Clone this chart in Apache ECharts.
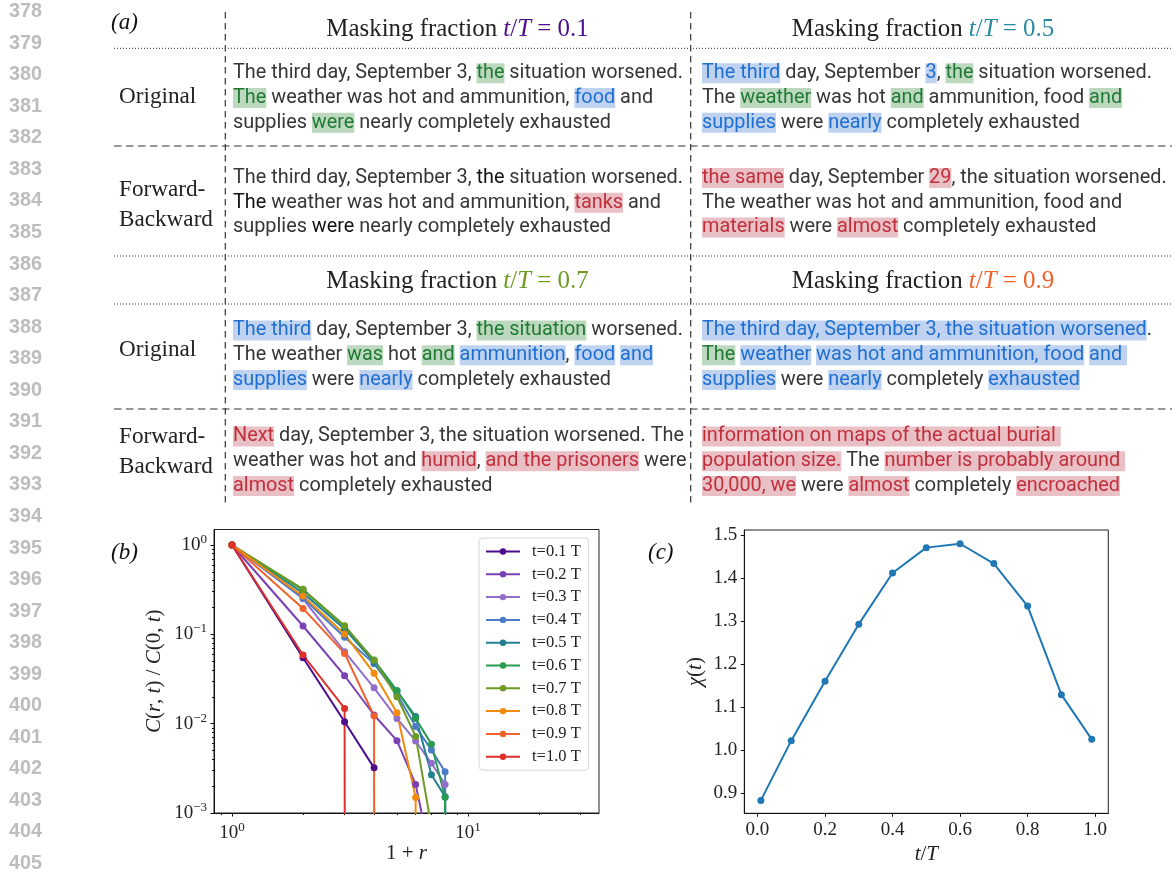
<!DOCTYPE html>
<html><head><meta charset="utf-8">
<script src="https://cdn.jsdelivr.net/npm/echarts@6/dist/echarts.min.js"></script>
<style>html,body{margin:0;padding:0;background:#fff}#c{width:1172px;height:869px}</style>
</head><body><div id="c"></div>
<script>
// ================= DATA =================
const lineNumbers = [378,379,380,381,382,383,384,385,386,387,388,389,390,391,392,393,394,395,396,397,398,399,400,401,402,403,404,405];
const maskFractions = ['0.1', '0.5', '0.7', '0.9'];
const rowLabelOriginal = ['Original'];
const rowLabelFB = ['Forward-', 'Backward'];
// [g:..] kept/masked-green, [b:..] masked-blue, [r:..] regenerated-red, [k:..] dark
const cellOrig01 = ['The third day, September 3, [g:the] situation worsened.', '[g:The] weather was hot and ammunition, [b:food] and', 'supplies [g:were] nearly completely exhausted'];
const cellFB01 = ['The third day, September 3, [k:the] situation worsened.', '[k:The] weather was hot and ammunition, [r:tanks] and', 'supplies [k:were] nearly completely exhausted'];
const cellOrig05 = ['[b:The third] day, September [b:3], [g:the] situation worsened.', 'The [g:weather] was hot [g:and] ammunition, food [g:and]', '[b:supplies] were [b:nearly] completely exhausted'];
const cellFB05 = ['[r:the same] day, September [r:29], the situation worsened.', 'The weather was hot and ammunition, food and', '[r:materials] were [r:almost] completely exhausted'];
const cellOrig07 = ['[b:The third] day, September 3, [g:the situation] worsened.', 'The weather [g:was] hot [g:and] [b:ammunition], [b:food] [b:and]', '[b:supplies] were [b:nearly] completely exhausted'];
const cellFB07 = ['[r:Next] day, September 3, the situation worsened. The', 'weather was hot and [r:humid], [r:and the prisoners] were', '[r:almost] completely exhausted'];
const cellOrig09 = ['[b:The third day, September 3, the situation worsened].', '[g:The] [b:weather] [b:was hot and ammunition, food] [b:and ]', '[b:supplies] were [b:nearly] completely [b:exhausted]'];
const cellFB09 = ['[r:information on maps of the actual burial ]', '[r:population size.] The [r:number is probably around ]', '[r:30,000, we] were [r:almost] completely [r:encroached]'];

// panel (b): 1+r and C(r,t)/C(0,t)   (0 = vanished correlation)
const distance = [1, 2, 3, 4, 5, 6, 7, 8, 9];
const seriesNames = ['t=0.1 T','t=0.2 T','t=0.3 T','t=0.4 T','t=0.5 T','t=0.6 T','t=0.7 T','t=0.8 T','t=0.9 T','t=1.0 T'];
const corr01 = [1, 0.0547, 0.0105, 0.0032];
const corr02 = [1, 0.124, 0.0344, 0.0125, 0.00645, 0.00209, 0.0003];
const corr03 = [1, 0.25, 0.064, 0.0252, 0.01146, 0.0064, 0.0036, 0.00209, 0];
const corr04 = [1, 0.255, 0.093, 0.047, 0.0214, 0.0093, 0.00506, 0.0029, 0];
const corr05 = [1, 0.29, 0.115, 0.049, 0.0232, 0.0120, 0.00268, 0.00152, 0];
const corr06 = [1, 0.313, 0.122, 0.0515, 0.0235, 0.0114, 0.0059, 0.0015, 0];
const corr07 = [1, 0.32, 0.125, 0.0512, 0.0200, 0.0072, 0.0007];
const corr08 = [1, 0.268, 0.1007, 0.0366, 0.01325, 0.00149, 0];
const corr09 = [1, 0.195, 0.0612, 0.0122, 0];
const corr10 = [1, 0.0587, 0.0148, 0];
const corrAll = [corr01, corr02, corr03, corr04, corr05, corr06, corr07, corr08, corr09, corr10];
const bMajorX = [1, 10];
const bMinorX = [0.9, 2, 3, 4, 5, 6, 7, 8, 9, 20, 30];
const bMajorY = [0.001, 0.01, 0.1, 1];
const bMinorY = [0.002,0.003,0.004,0.005,0.006,0.007,0.008,0.009,0.02,0.03,0.04,0.05,0.06,0.07,0.08,0.09,0.2,0.3,0.4,0.5,0.6,0.7,0.8,0.9];

// panel (c)
const chiT = [0.01, 0.1, 0.2, 0.3, 0.4, 0.5, 0.6, 0.7, 0.8, 0.9, 0.99];
const chiValues = [0.883, 1.022, 1.160, 1.293, 1.412, 1.471, 1.480, 1.434, 1.335, 1.129, 1.025];
const cTicksX = [0, 0.2, 0.4, 0.6, 0.8, 1.0];
const cTicksY = [0.9, 1.0, 1.1, 1.2, 1.3, 1.4, 1.5];

// ================= STYLE =================
const seriesColors = ['#4b0d8c','#7a40b5','#9170cc','#4b7cc8','#20808f','#279c4f','#6e9b23','#f28a0b','#f0622a','#df2f2a'];
const headerColors = ['#4b0d8c','#2a8aa0','#6e9b23','#f0622a'];
const SERIF = 'Liberation Serif';
const SANS = 'Roboto';
const ctx = document.createElement('canvas').getContext('2d');
function fit(text, family, target, weight, style) {
  ctx.font = (style||'normal') + ' ' + (weight||'normal') + ' 100px "' + family + '"';
  return 100 * target / ctx.measureText(text).width;
}
const bodySize = fit('The third day, September 3, the situation worsened.', SANS, 450);
const headSize = fit('Masking fraction t/T = 0.1', SERIF, 264);
const labSize = fit('Backward', SERIF, 94);
const numSize = fit('378', 'Liberation Sans', 33, 'bold');

const bodyRich = {};
const tokStyles = {
  n: {fill: '#363636'}, k: {fill: '#111111'},
  g: {fill: '#1f7a33', backgroundColor: '#bcd8be'},
  b: {fill: '#1f6fd2', backgroundColor: '#bfd3f1'},
  r: {fill: '#c0303c', backgroundColor: '#e9c0c5'}
};
for (const k in tokStyles) bodyRich[k] = Object.assign({fontFamily: SANS, fontSize: bodySize, lineHeight: 24}, tokStyles[k]);

function toRich(s) {
  let out = '', re = /\[([a-z]):([^\]]*)\]/g, last = 0, m;
  while ((m = re.exec(s))) {
    if (m.index > last) out += '{n|' + s.slice(last, m.index) + '}';
    out += '{' + m[1] + '|' + m[2] + '}';
    last = re.lastIndex;
  }
  if (last < s.length) out += '{n|' + s.slice(last) + '}';
  return out;
}

const graphics = [];
// line numbers
lineNumbers.forEach((n, i) => graphics.push({type: 'text', silent: true, style: {x: 9, y: 11.7 + i * 31.55, text: String(n), fontFamily: 'Liberation Sans', fontWeight: 'bold', fontSize: numSize, fill: '#bdbdbd', verticalAlign: 'middle', align: 'left'}}));
// panel letters
[['(a)', 111, 23], ['(b)', 111, 553], ['(c)', 648, 553]].forEach(p => graphics.push({type: 'text', silent: true, style: {x: p[1], y: p[2], text: p[0], fontFamily: SERIF, fontStyle: 'italic', fontSize: 23, fill: '#111', verticalAlign: 'middle', align: 'left'}}));

function hline(y, dash, w) { graphics.push({type: 'line', silent: true, shape: {x1: 114, y1: y, x2: 1172, y2: y}, style: {stroke: '#333', lineWidth: w, lineDash: dash}}); }
function vline(x) { graphics.push({type: 'line', silent: true, shape: {x1: x, y1: 12, x2: x, y2: 505}, style: {stroke: '#333', lineWidth: 1.2, lineDash: [6.5, 4.5]}}); }
hline(48.3, [1, 2], 1); hline(146, [7.5, 4.5], 1.2); hline(256, [1, 2], 1); hline(304, [1, 2], 1); hline(409, [7.5, 4.5], 1.2);
vline(225.3); vline(690.7);

// headers
const headPos = [[457.5, 29], [923, 29], [457.5, 281], [923, 281]];
maskFractions.forEach((f, i) => {
  const c = headerColors[i];
  graphics.push({type: 'text', silent: true, style: {x: headPos[i][0], y: headPos[i][1], align: 'center', verticalAlign: 'middle',
    text: '{h|Masking fraction }{m|t}{u|/}{m|T}{u| = ' + f + '}',
    rich: {h: {fontFamily: SERIF, fontSize: headSize, fill: '#222'}, m: {fontFamily: SERIF, fontSize: headSize, fontStyle: 'italic', fill: c}, u: {fontFamily: SERIF, fontSize: headSize, fill: c}}}});
});
// row labels
function label(t, y) { graphics.push({type: 'text', silent: true, style: {x: 119, y: y, text: t, fontFamily: SERIF, fontSize: labSize, fill: '#222', verticalAlign: 'middle', align: 'left'}}); }
label(rowLabelOriginal[0], 97); label(rowLabelFB[0], 190); label(rowLabelFB[1], 220);
label(rowLabelOriginal[0], 350); label(rowLabelFB[0], 437); label(rowLabelFB[1], 467);
// cells
function cell(lines, x, y0) {
  lines.forEach((l, i) => graphics.push({type: 'text', silent: true, style: {x: x, y: y0 + i * 24.7, text: toRich(l), rich: bodyRich, fontFamily: SANS, fontSize: bodySize, verticalAlign: 'middle', align: 'left'}}));
}
cell(cellOrig01, 233, 73.3); cell(cellFB01, 233, 178);
cell(cellOrig05, 702, 73.3); cell(cellFB05, 702, 178);
cell(cellOrig07, 233, 330.5); cell(cellFB07, 233, 436.5);
cell(cellOrig09, 702, 330.5); cell(cellFB09, 702, 436.5);

// ================= CHART =================
const lg = v => Math.log10(v > 0 ? v : 1e-300); // non-positive values clipped like matplotlib
const supRich = {b: {fontFamily: SERIF, fontSize: 19, color: '#222'}, s: {fontFamily: SERIF, fontSize: 13, color: '#222', padding: [0, 0, 11, 0]}};
function powLabel(v) { const e = Math.round(v); return '{b|10}{s|' + (e < 0 ? '\u2212' + (-e) : e) + '}'; }
const axisCommon = {splitLine: {show: false}, axisLine: {onZero: false, lineStyle: {color: '#111', width: 1}}, axisTick: {length: 3.5, lineStyle: {color: '#111'}}};
const nameRich = {n: {fontFamily: SERIF, fontSize: 21, color: '#222'}, i: {fontFamily: SERIF, fontSize: 21, fontStyle: 'italic', color: '#222'}};

const bXmin = lg(0.839), bXmax = lg(35.9), bYmin = -3, bYmax = 0.1735;

const option = {
  animation: false,
  graphic: {elements: graphics},
  grid: [
    {left: 214, top: 529.5, width: 385, height: 283.5, show: true, borderColor: '#222', borderWidth: 1, backgroundColor: 'transparent', outerBoundsMode: 'none', containLabel: false},
    {left: 744.3, top: 530, width: 364, height: 283.3, show: true, borderColor: '#222', borderWidth: 1, backgroundColor: 'transparent', outerBoundsMode: 'none', containLabel: false}
  ],
  legend: {
    data: seriesNames, left: 479, top: 538, orient: 'vertical', itemWidth: 34, itemHeight: 8, itemGap: 5.8,
    padding: [5, 8, 5, 6], backgroundColor: 'rgba(255,255,255,0.85)', borderColor: '#d6d6d6', borderWidth: 1, borderRadius: 4,
    textStyle: {fontFamily: SERIF, fontSize: 16.5, color: '#222', padding: [0, 0, 0, 7]}
  },
  xAxis: [
    Object.assign({}, axisCommon, {gridIndex: 0, type: 'value', position: 'bottom', min: bXmin, max: bXmax,
      axisTick: {length: 3.5, lineStyle: {color: '#111'}, customValues: bMajorX.map(lg)},
      axisLabel: {customValues: bMajorX.map(lg), formatter: powLabel, rich: supRich, margin: 8},
      name: '{n|1 + }{i|r}', nameLocation: 'middle', nameGap: 30, nameTextStyle: {rich: nameRich}}),
    {gridIndex: 0, type: 'value', position: 'bottom', min: bXmin, max: bXmax, splitLine: {show: false}, axisLine: {show: false, onZero: false}, axisLabel: {show: false},
      axisTick: {length: 2, lineStyle: {color: '#111'}, customValues: bMinorX.map(lg)}},
    Object.assign({}, axisCommon, {gridIndex: 1, type: 'value', position: 'bottom', min: -0.039, max: 1.039,
      axisTick: {length: 3.5, lineStyle: {color: '#111'}, customValues: cTicksX},
      axisLabel: {customValues: cTicksX, formatter: v => v.toFixed(1), fontFamily: SERIF, fontSize: 19, color: '#222', margin: 7},
      name: '{i|t}{n|/}{i|T}', nameLocation: 'middle', nameGap: 31, nameTextStyle: {rich: nameRich}})
  ],
  yAxis: [
    Object.assign({}, axisCommon, {gridIndex: 0, type: 'value', position: 'left', min: bYmin, max: bYmax,
      axisTick: {length: 3.5, lineStyle: {color: '#111'}, customValues: bMajorY.map(lg)},
      axisLabel: {customValues: bMajorY.map(lg), formatter: powLabel, rich: supRich, margin: 7},
      name: '{i|C}{n|(}{i|r}{n|, }{i|t}{n|) / }{i|C}{n|(0, }{i|t}{n|)}', nameLocation: 'middle', nameGap: 49, nameRotate: 90, nameTextStyle: {rich: nameRich}}),
    {gridIndex: 0, type: 'value', position: 'left', min: bYmin, max: bYmax, splitLine: {show: false}, axisLine: {show: false, onZero: false}, axisLabel: {show: false},
      axisTick: {length: 2, lineStyle: {color: '#111'}, customValues: bMinorY.map(lg)}},
    Object.assign({}, axisCommon, {gridIndex: 1, type: 'value', position: 'left', min: 0.853, max: 1.512,
      axisTick: {length: 3.5, lineStyle: {color: '#111'}, customValues: cTicksY},
      axisLabel: {customValues: cTicksY, formatter: v => v.toFixed(1), fontFamily: SERIF, fontSize: 19, color: '#222', margin: 7},
      name: '{i|\u03c7}{n|(}{i|t}{n|)}', nameLocation: 'middle', nameGap: 38, nameRotate: 90, nameTextStyle: {rich: nameRich}})
  ],
  series: corrAll.map((arr, k) => ({
    type: 'line', name: seriesNames[k], xAxisIndex: 0, yAxisIndex: 0, clip: true,
    data: arr.map((v, i) => [lg(distance[i]), lg(v)]),
    symbol: 'circle', symbolSize: 7, showAllSymbol: true,
    lineStyle: {width: 2, color: seriesColors[k]}, itemStyle: {color: seriesColors[k]}
  })).concat([{
    type: 'line', name: 'chi', xAxisIndex: 2, yAxisIndex: 2, clip: true,
    data: chiT.map((t, i) => [t, chiValues[i]]),
    symbol: 'circle', symbolSize: 7, lineStyle: {width: 2, color: '#1f77b4'}, itemStyle: {color: '#1f77b4'}
  }])
};
const chart = echarts.init(document.getElementById('c'), null, {renderer: 'canvas'});
chart.setOption(option);
</script>
</body></html>
